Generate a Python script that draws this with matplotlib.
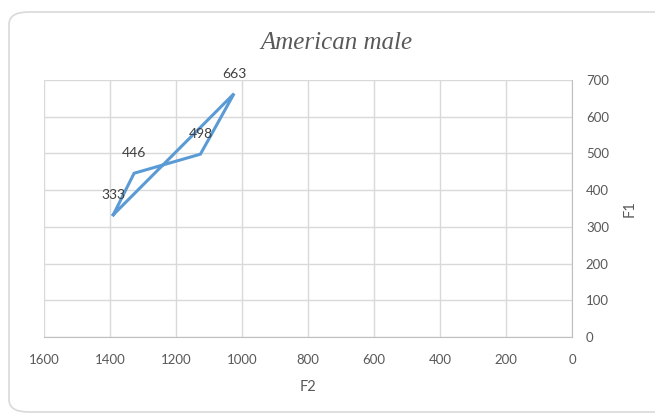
import matplotlib
matplotlib.use("Agg")
import matplotlib.pyplot as plt
from matplotlib.patches import FancyBboxPatch

# Formant values (F2 on x, F1 on y), closed loop back to the first vowel
f2 = [1390, 1327, 1126, 1024, 1390]
f1 = [333, 446, 498, 663, 333]
labels = ["333", "446", "498", "663"]

x_ticks = [1600, 1400, 1200, 1000, 800, 600, 400, 200, 0]
y_ticks = [0, 100, 200, 300, 400, 500, 600, 700]

W, H = 655, 417
fig = plt.figure(figsize=(W / 100, H / 100), dpi=100)
fig.patch.set_facecolor("white")

# rounded chart frame, kept behind the plot
frame = FancyBboxPatch((9 / W, 5 / H), (W + 20) / W, (H - 17) / H,
                       boxstyle="round,pad=0,rounding_size=0.03",
                       transform=fig.transFigure, facecolor="white",
                       edgecolor="#d9d9d9", linewidth=1.2, clip_on=False,
                       zorder=-10)
fig.patches.append(frame)

ax = fig.add_axes([44 / W, 1 - 337 / H, (572 - 44) / W, (337 - 80) / H])
ax.set_zorder(1)
ax.set_facecolor("none")

ax.plot(f2, f1, color="#5B9BD5", linewidth=2.2, solid_joinstyle="miter", zorder=3)

tick_font = dict(family="Lato", size=9.5, color="#595959")
for x, y, t in zip(f2[:-1], f1[:-1], labels):
    ax.annotate(t, (x, y), xytext=(0, 10), textcoords="offset points",
                ha="center", va="bottom", fontfamily="Lato", fontsize=10,
                color="#404040", zorder=4)

ax.set_xlim(1600, 0)
ax.set_ylim(0, 700)
ax.set_xticks(x_ticks)
ax.set_yticks(y_ticks)
ax.set_xticklabels([str(v) for v in x_ticks], **tick_font)
ax.set_yticklabels([str(v) for v in y_ticks], **tick_font)
ax.yaxis.tick_right()
ax.yaxis.set_label_position("right")
ax.tick_params(axis="x", length=0, pad=12)
ax.tick_params(axis="y", length=0, pad=10)

ax.grid(True, color="#d9d9d9", linewidth=1)
ax.set_axisbelow(True)
for s in ["top", "left"]:
    ax.spines[s].set_visible(False)
ax.spines["right"].set_color("#bfbfbf")
ax.spines["bottom"].set_color("#bfbfbf")

ax.set_xlabel("F2", fontfamily="Lato", fontsize=10.5, color="#595959", labelpad=10)
ax.set_ylabel("F1", fontfamily="Lato", fontsize=10.5, color="#595959", labelpad=10)

fig.text(336 / W, 1 - 43 / H, "American male", ha="center", va="center",
         fontfamily="Liberation Serif", fontstyle="italic", fontsize=18,
         color="#595959")

fig.savefig("out.png", dpi=100, facecolor="white")
